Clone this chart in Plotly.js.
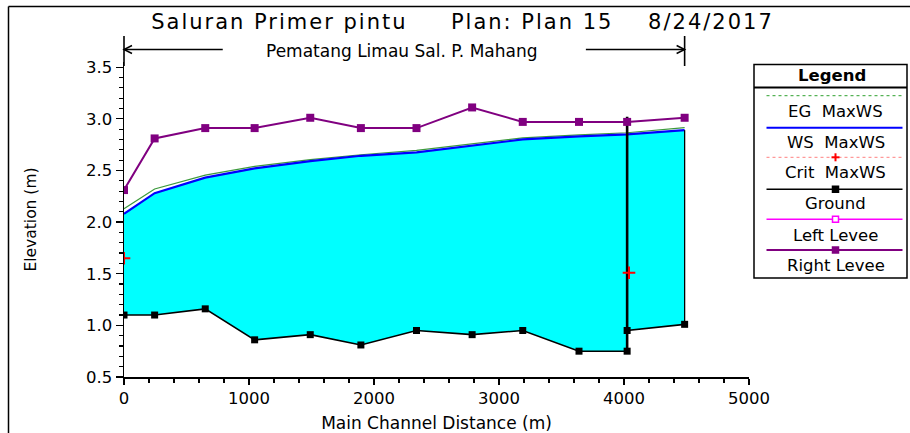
<!DOCTYPE html>
<html>
<head>
<meta charset="utf-8">
<script src="https://cdn.plot.ly/plotly-3.0.1.min.js"></script>
<style>
html,body{margin:0;padding:0;background:#fff;}
#chart{width:910px;height:433px;}
#chart .gtitle{letter-spacing:2px;}
</style>
</head>
<body>
<div id="chart"></div>
<script>
// ---- data ----
const stationDist   = [0, 245, 650, 1045, 1490, 1895, 2340, 2785, 3190, 3640, 4025, 4485];
const egElev        = [2.13, 2.32, 2.455, 2.54, 2.605, 2.652, 2.694, 2.76, 2.815, 2.845, 2.865, 2.915];
const wsElev        = [2.08, 2.28, 2.43, 2.52, 2.59, 2.642, 2.675, 2.74, 2.80, 2.83, 2.85, 2.89];
const groundDist    = [0, 245, 650, 1045, 1490, 1895, 2340, 2785, 3190, 3640, 4025, 4025, 4485];
const groundElev    = [1.10, 1.10, 1.16, 0.86, 0.91, 0.81, 0.95, 0.91, 0.95, 0.75, 0.75, 0.95, 1.01];
const rightLeveeElev= [2.31, 2.81, 2.91, 2.91, 3.01, 2.91, 2.91, 3.11, 2.97, 2.97, 2.97, 3.01];
const critDist      = [0, 4040];
const critElev      = [1.65, 1.51];
const gateDist      = [4025, 4025];
const gateElev      = [0.75, 3.02];
const xRange = [0, 5000];
const yRange = [0.5, 3.55];
const titleParts = ["Saluran Primer pintu", "Plan: Plan 15", "8/24/2017"];
const reachLabel = "Pematang Limau Sal. P. Mahang";
const legendNames = ["EG\u00a0\u00a0MaxWS", "WS\u00a0\u00a0MaxWS", "Crit\u00a0\u00a0MaxWS", "Ground", "Left Levee", "Right Levee"];

// ---- layout geometry (pixels) ----
const W = 910, H = 433;
const M = {l:124, r:161, t:62, b:56};
const PL = M.l, PR = W - M.r, PT = M.t, PB = H - M.b;
const px = x => (x - PL) / (PR - PL);
const py = y => (PB - y) / (PB - PT);
const dx = d => (d - xRange[0]) / (xRange[1] - xRange[0]);
const FONT = "DejaVu Sans, Arial, sans-serif";

// ---- traces ----
const fillX = stationDist.concat(groundDist.slice().reverse());
const fillY = wsElev.concat(groundElev.slice().reverse());
const last = stationDist.length - 1;

const traces = [
  {x: fillX, y: fillY, mode:'lines', fill:'toself', fillcolor:'#00FFFF',
   line:{width:0, color:'#00FFFF'}, hoverinfo:'skip', showlegend:false},
  {x: stationDist, y: egElev, mode:'lines', line:{color:'#3c9a3c', width:1.2}, showlegend:false, name:'EG MaxWS'},
  {x: stationDist, y: wsElev, mode:'lines', line:{color:'#0000FF', width:2.2}, showlegend:false, name:'WS MaxWS'},
  {x: [stationDist[last], stationDist[last]], y: [groundElev[groundElev.length-1], wsElev[last]],
   mode:'lines', line:{color:'#000', width:1.3}, showlegend:false, hoverinfo:'skip'},
  {x: gateDist, y: gateElev, mode:'lines', line:{color:'#000', width:2.6}, showlegend:false, hoverinfo:'skip'},
  {x: groundDist, y: groundElev, mode:'lines+markers', line:{color:'#000', width:1.6},
   marker:{symbol:'square', size:7, color:'#000'}, showlegend:false, name:'Ground'},
  {x: stationDist, y: rightLeveeElev, mode:'lines+markers', line:{color:'#800080', width:2},
   marker:{symbol:'square', size:8, color:'#800080'}, showlegend:false, name:'Right Levee'},
  {x: critDist, y: critElev, mode:'markers',
   marker:{symbol:'cross-thin', size:9, color:'#FF0000', line:{color:'#FF0000', width:2}}, showlegend:false, name:'Crit MaxWS'}
];

// ---- decorations ----
const shapes = [];
const annotations = [];
const blk = {color:'#000', width:1.5};
// outer frame (top + left)
shapes.push({type:'line', xref:'paper', yref:'paper', x0:px(8.5), x1:px(912), y0:py(6.5), y1:py(6.5), line:blk});
shapes.push({type:'line', xref:'paper', yref:'paper', x0:px(8.5), x1:px(8.5), y0:py(6.5), y1:py(436), line:blk});
// reach markers
const rs = stationDist[0], re = stationDist[last];
const yA = py(49.5);
[rs, re].forEach(d => shapes.push({type:'line', xref:'paper', yref:'paper', x0:dx(d), x1:dx(d), y0:py(36), y1:py(66), line:{color:'#000', width:1.6}}));
shapes.push({type:'line', xref:'paper', yref:'paper', x0:dx(rs), x1:dx(rs+790), y0:yA, y1:yA, line:{color:'#000', width:1.3}});
shapes.push({type:'line', xref:'paper', yref:'paper', x0:dx(re-790), x1:dx(re), y0:yA, y1:yA, line:{color:'#000', width:1.3}});
const ah = 8/625, av = 4/(PB-PT);
shapes.push({type:'path', xref:'paper', yref:'paper',
  path:`M${dx(rs)+ah},${yA+av} L${dx(rs)},${yA} L${dx(rs)+ah},${yA-av}`, line:{color:'#000', width:1.5}});
shapes.push({type:'path', xref:'paper', yref:'paper',
  path:`M${dx(re)-ah},${yA+av} L${dx(re)},${yA} L${dx(re)-ah},${yA-av}`, line:{color:'#000', width:1.5}});
annotations.push({xref:'paper', yref:'paper', x:px(401.5), y:py(51), text:reachLabel, showarrow:false,
  xanchor:'center', yanchor:'middle', font:{family:FONT, size:17, color:'#000'}});

// legend box
const LX0 = 754, LX1 = 907;
shapes.push({type:'rect', xref:'paper', yref:'paper', x0:px(LX0), x1:px(LX1), y0:py(64.5), y1:py(278), line:blk, fillcolor:'rgba(0,0,0,0)'});
shapes.push({type:'line', xref:'paper', yref:'paper', x0:px(LX0), x1:px(LX1), y0:py(87.5), y1:py(87.5), line:{color:'#000', width:2}});
annotations.push({xref:'paper', yref:'paper', x:px(832), y:py(76), text:'<b>Legend</b>', showarrow:false,
  xanchor:'center', yanchor:'middle', font:{family:FONT, size:16.5, color:'#000'}});
const lineYs = [95.7, 127.7, 157.3, 189.3, 219.3, 250];
const textYs = [111.7, 142.7, 172.7, 204, 235, 265];
const legStyles = [
  {color:'#2ea02e', width:1, dash:'dot'},
  {color:'#0000FF', width:2, dash:'solid'},
  {color:'#ff8080', width:1, dash:'dot'},
  {color:'#000000', width:1.5, dash:'solid'},
  {color:'#FF00FF', width:1.5, dash:'solid'},
  {color:'#800080', width:2, dash:'solid'}
];
const LLX0 = 766.5, LLX1 = 902.5, LMX = 835.5;
lineYs.forEach((y, i) => {
  shapes.push({type:'line', xref:'paper', yref:'paper', x0:px(LLX0), x1:px(LLX1), y0:py(y), y1:py(y), line:legStyles[i]});
  annotations.push({xref:'paper', yref:'paper', x:px(LMX), y:py(textYs[i]), text:legendNames[i], showarrow:false,
    xanchor:'center', yanchor:'middle', font:{family:FONT, size:16.5, color:'#000'}});
});
// legend markers
const sq = (cx, cy, s, fill, stroke) => ({type:'rect', xref:'paper', yref:'paper',
  x0:px(cx - s/2), x1:px(cx + s/2), y0:py(cy + s/2), y1:py(cy - s/2), fillcolor:fill, line:{color:stroke, width:1.5}});
shapes.push({type:'line', xref:'paper', yref:'paper', x0:px(LMX-4), x1:px(LMX+4), y0:py(lineYs[2]), y1:py(lineYs[2]), line:{color:'#f00', width:2}});
shapes.push({type:'line', xref:'paper', yref:'paper', x0:px(LMX), x1:px(LMX), y0:py(lineYs[2]-4), y1:py(lineYs[2]+4), line:{color:'#f00', width:2}});
shapes.push(sq(LMX, lineYs[3], 6, '#000', '#000'));
shapes.push(sq(LMX, lineYs[4], 6, '#fff', '#FF00FF'));
shapes.push(sq(LMX, lineYs[5], 6, '#800080', '#800080'));

const nb = n => '\u00a0'.repeat(n);
const layout = {
  width: W, height: H,
  margin: M,
  paper_bgcolor:'#fff', plot_bgcolor:'#fff',
  showlegend:false,
  title:{text: titleParts[0] + nb(5) + titleParts[1] + nb(4) + titleParts[2],
    xref:'container', yref:'container', x:462.5/W, y:1 - 22/H, xanchor:'center', yanchor:'middle',
    font:{family:FONT, size:21, color:'#000'}},
  xaxis:{range:xRange, dtick:1000, tick0:0, ticks:'outside', ticklen:6, tickwidth:1.3, tickcolor:'#000',
    showline:true, linecolor:'#000', linewidth:1.5, showgrid:false, zeroline:false,
    tickfont:{family:FONT, size:16.5, color:'#000'},
    minor:{dtick:200, tick0:0, ticks:'outside', ticklen:4, tickwidth:1.2, tickcolor:'#000', showgrid:false},
    title:{text:'Main Channel Distance (m)', standoff:10, font:{family:FONT, size:17, color:'#000'}}},
  yaxis:{range:yRange, dtick:0.5, tick0:0.5, tickformat:'.1f', ticks:'outside', ticklen:7, tickwidth:1.3, tickcolor:'#000',
    showline:true, linecolor:'#000', linewidth:1.5, showgrid:false, zeroline:false,
    tickfont:{family:FONT, size:16.5, color:'#000'},
    minor:{dtick:0.1, tick0:0.5, ticks:'outside', ticklen:4, tickwidth:1.2, tickcolor:'#000', showgrid:false},
    title:{text:'Elevation (m)', standoff:45, font:{family:FONT, size:15.5, color:'#000'}}},
  shapes: shapes,
  annotations: annotations
};

Plotly.newPlot('chart', traces, layout, {displayModeBar:false, staticPlot:true});
</script>
</body>
</html>
